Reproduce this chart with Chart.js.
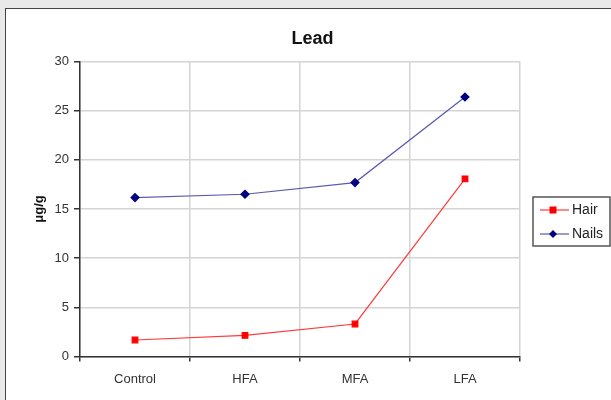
<!DOCTYPE html>
<html>
<head>
<meta charset="utf-8">
<script src="https://cdn.jsdelivr.net/npm/chart.js@4/dist/chart.umd.min.js"></script>
<style>
  html, body { margin: 0; padding: 0; background: #e9e9e9; overflow: hidden; }
  #frame {
    position: absolute; left: 5px; top: 8px; width: 606px; height: 392px;
    background: #fff; border-left: 1px solid #444; border-top: 1px solid #444;
  }
  #chart { display: block; }
</style>
</head>
<body>
<div id="frame"><canvas id="chart" width="605" height="391"></canvas></div>
<script>
const categories = ['Control', 'HFA', 'MFA', 'LFA'];
const hairValues = [1.67, 2.14, 3.3, 18.06];
const nailsValues = [16.16, 16.5, 17.69, 26.4];
const yTicks = [0, 5, 10, 15, 20, 25, 30];

const FONT = 'Liberation Sans, Arial, sans-serif';

// legend drawn by hand: line with marker, inside a bordered box
const boxLegend = {
  id: 'boxLegend',
  afterDraw(chart) {
    const ctx = chart.ctx;
    const a = chart.chartArea;
    const x = a.right + 13, w = 77, h = 49;
    const y = (a.top + a.bottom) / 2 - 12;
    ctx.save();
    ctx.strokeStyle = '#555';
    ctx.lineWidth = 1.5;
    ctx.strokeRect(x, y, w, h);
    chart.data.datasets.forEach((ds, i) => {
      const cy = y + 13 + i * 24;
      ctx.strokeStyle = ds.borderColor;
      ctx.lineWidth = 1.2;
      ctx.beginPath();
      ctx.moveTo(x + 7, cy);
      ctx.lineTo(x + 36, cy);
      ctx.stroke();
      ctx.fillStyle = ds.pointBackgroundColor;
      ctx.beginPath();
      if (ds.pointStyle === 'rect') {
        ctx.rect(x + 20 - 3.5, cy - 3.5, 7, 7);
      } else {
        ctx.moveTo(x + 20, cy - 4);
        ctx.lineTo(x + 24, cy);
        ctx.lineTo(x + 20, cy + 4);
        ctx.lineTo(x + 16, cy);
        ctx.closePath();
      }
      ctx.fill();
      ctx.fillStyle = '#222';
      ctx.font = '14px ' + FONT;
      ctx.textBaseline = 'middle';
      ctx.textAlign = 'left';
      ctx.fillText(ds.label, x + 39, cy);
    });
    ctx.restore();
  }
};

new Chart(document.getElementById('chart'), {
  type: 'line',
  data: {
    labels: categories,
    datasets: [
      {
        label: 'Hair',
        data: hairValues,
        borderColor: '#ff3a3a',
        borderWidth: 1.2,
        pointStyle: 'rect',
        pointRadius: 4,
        pointBackgroundColor: '#ff0000',
        pointBorderColor: '#ff0000',
        tension: 0
      },
      {
        label: 'Nails',
        data: nailsValues,
        borderColor: '#5a5ab0',
        borderWidth: 1.2,
        pointStyle: 'rectRot',
        pointRadius: 4,
        pointBackgroundColor: '#000080',
        pointBorderColor: '#000080',
        tension: 0
      }
    ]
  },
  options: {
    responsive: false,
    animation: false,
    layout: { padding: { left: 8, right: 0, top: 0, bottom: 3 } },
    plugins: {
      legend: { display: false },
      tooltip: { enabled: false },
      title: {
        display: true,
        text: 'Lead',
        color: '#111',
        font: { family: FONT, size: 18, weight: 'bold' },
        padding: { top: 19, bottom: 12 }
      }
    },
    scales: {
      x: {
        offset: true,
        grid: {
          offset: true,
          color: '#d4d4d4',
          lineWidth: 1.5,
          tickColor: '#333',
          tickLength: 5
        },
        border: { color: '#333', width: 1.5 },
        ticks: {
          color: '#333',
          padding: 10,
          font: { family: FONT, size: 13 }
        }
      },
      y: {
        min: 0,
        max: 30,
        afterBuildTicks(scale) {
          scale.ticks = yTicks.map(v => ({ value: v }));
        },
        afterFit(scale) { scale.width = 66; },
        grid: {
          color: '#d4d4d4',
          lineWidth: 1.5,
          tickColor: '#333',
          tickLength: 6
        },
        border: { color: '#333', width: 1.5 },
        ticks: {
          color: '#333',
          padding: 5,
          font: { family: FONT, size: 13 }
        },
        title: {
          display: true,
          text: 'μg/g',
          color: '#111',
          padding: { top: 18, bottom: 0 },
          font: { family: FONT, size: 13, weight: 'bold' }
        }
      },
      // empty axis on the right, only to leave room for the legend box
      side: {
        position: 'right',
        afterFit(scale) { scale.width = 91; },
        grid: { display: false },
        border: { display: false },
        ticks: { display: false }
      }
    }
  },
  plugins: [boxLegend]
});
</script>
</body>
</html>
